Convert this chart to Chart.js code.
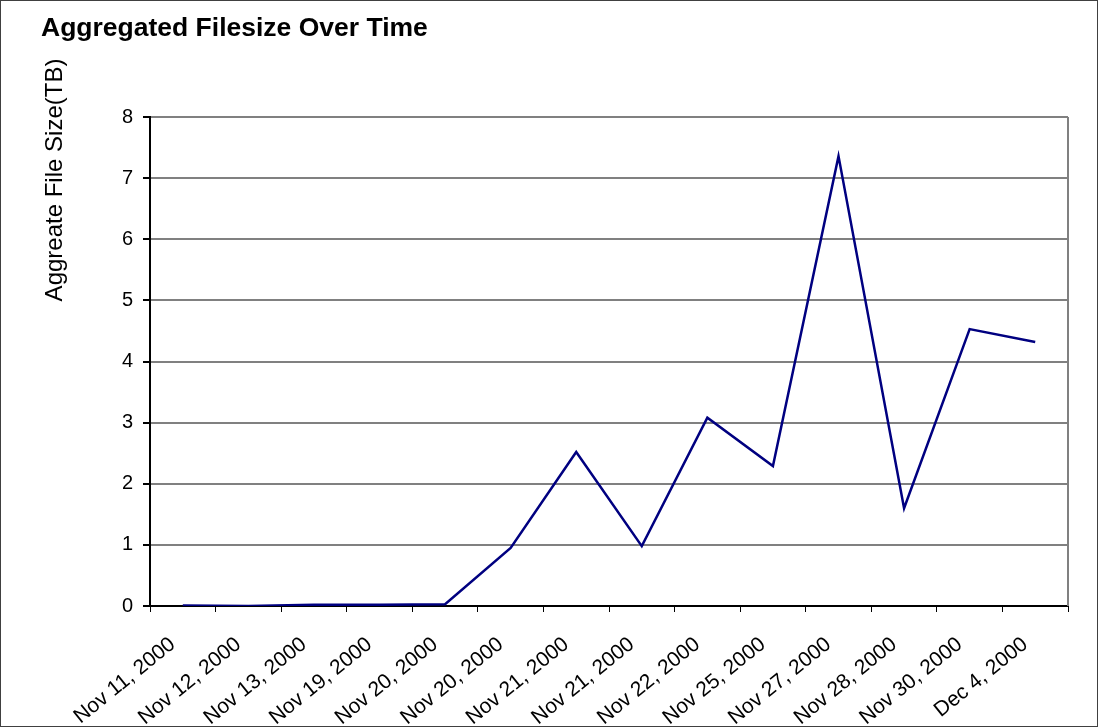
<!DOCTYPE html>
<html>
<head>
    <script src="https://cdn.jsdelivr.net/npm/chart.js@4/dist/chart.umd.min.js"></script>
    <style>
        html, body { margin: 0; padding: 0; background: #fff; }
        #wrap { width: 1098px; height: 727px; }
    </style>
</head>
<body>
    <div id="wrap"><canvas id="myChart" width="1098" height="727"></canvas></div>
<script>
    var dates = ['Nov 11, 2000', 'Nov 12, 2000', 'Nov 13, 2000', 'Nov 19, 2000', 'Nov 20, 2000',
        'Nov 20, 2000', 'Nov 21, 2000', 'Nov 21, 2000', 'Nov 22, 2000', 'Nov 25, 2000',
        'Nov 27, 2000', 'Nov 28, 2000', 'Nov 30, 2000', 'Dec 4, 2000'];
    var sizeTB = [0.01, 0.0, 0.02, 0.02, 0.03, 0.95, 2.52, 0.98, 3.08, 2.29, 7.36, 1.60, 4.53, 4.32];
    var yTicks = [0, 1, 2, 3, 4, 5, 6, 7, 8];

    var font = 'Arial, "Liberation Sans", sans-serif';

    // title, rotated axis label, plot right edge and outer frame
    var decor = {
        id: 'decor',
        afterDraw: function (chart) {
            var c = chart.ctx, a = chart.chartArea;
            c.save();
            c.fillStyle = '#000';
            c.font = 'bold 26.5px ' + font;
            c.textBaseline = 'alphabetic';
            c.fillText('Aggregated Filesize Over Time', 41, 36);

            c.font = '24px ' + font;
            c.translate(62, 180);
            c.rotate(-Math.PI / 2);
            c.textAlign = 'center';
            c.fillText('Aggreate File Size(TB)', 0, 0);
            c.restore();

            c.save();
            c.strokeStyle = '#808080';
            c.lineWidth = 2;
            c.beginPath();
            c.moveTo(a.right, a.top);
            c.lineTo(a.right, a.bottom);
            c.stroke();
            c.strokeStyle = '#404040';
            c.lineWidth = 1;
            c.strokeRect(0.5, 0.5, chart.width - 1, chart.height - 1);
            c.restore();
        }
    };

    var ctx = document.getElementById('myChart').getContext('2d');
    var lineChart = new Chart(ctx, {
        type: 'line',
        data: {
            labels: dates,
            datasets: [{
                data: sizeTB,
                borderColor: '#000080',
                borderWidth: 2.5,
                pointRadius: 0,
                tension: 0,
                fill: false
            }]
        },
        options: {
            responsive: false,
            animation: false,
            layout: { padding: { top: 117, right: 30, left: 0, bottom: 0 } },
            plugins: {
                legend: { display: false },
                tooltip: { enabled: false }
            },
            scales: {
                x: {
                    type: 'category',
                    offset: true,
                    grid: {
                        offset: true,
                        drawOnChartArea: false,
                        drawTicks: true,
                        tickLength: 6,
                        tickColor: '#000'
                    },
                    border: { color: '#000', width: 2 },
                    ticks: {
                        color: '#000',
                        font: { family: font, size: 21 },
                        minRotation: 39,
                        maxRotation: 39,
                        autoSkip: false,
                        padding: 20,
                        labelOffset: -10
                    },
                    afterFit: function (s) { s.height = 121; }
                },
                y: {
                    min: 0,
                    max: 8,
                    afterBuildTicks: function (s) {
                        s.ticks = yTicks.map(function (v) { return { value: v }; });
                    },
                    grid: {
                        color: '#808080',
                        lineWidth: 2,
                        tickLength: 7,
                        tickColor: '#000'
                    },
                    border: { color: '#000', width: 2 },
                    ticks: {
                        color: '#000',
                        font: { family: font, size: 20 },
                        padding: 10
                    },
                    afterFit: function (s) { s.width = 150; }
                }
            }
        },
        plugins: [decor]
    });
</script>
</body>
</html>
